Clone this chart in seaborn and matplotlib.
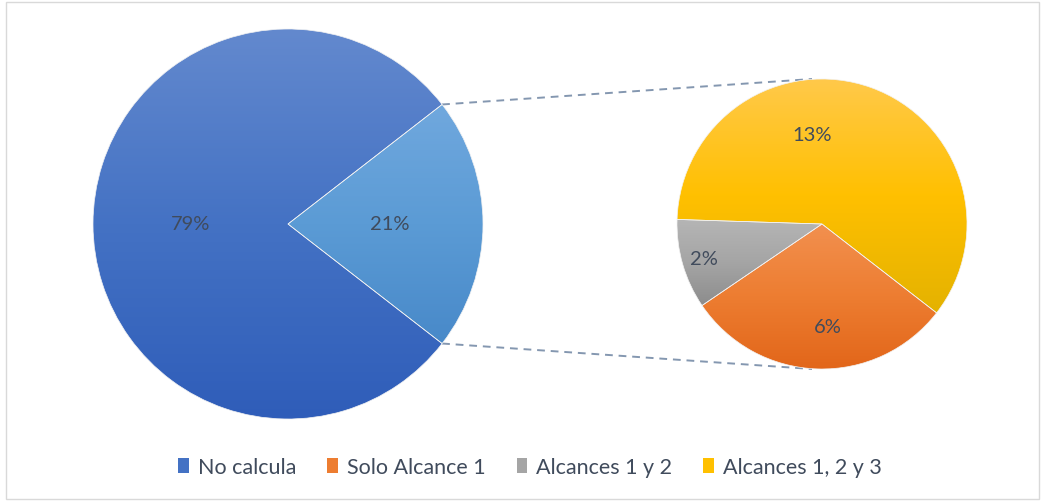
import numpy as np
import matplotlib
matplotlib.use("Agg")
import matplotlib.pyplot as plt
from matplotlib.colors import LinearSegmentedColormap
from matplotlib.patches import Patch, Rectangle
import seaborn as sns

# datos
categories = ["No calcula", "Solo Alcance 1", "Alcances 1 y 2", "Alcances 1, 2 y 3"]
values = [79.0, 6.3, 2.1, 12.6]
colors = ["#4472C4", "#ED7D31", "#A5A5A5", "#FFC000"]
other_color = "#5B9BD5"

main_values = [values[0], sum(values[1:])]
sub_values = values[1:]

# degradados tipo Excel: (abajo, medio, arriba)
grad_stops = {
    "#4472C4": ["#2F5DB9", "#4472C4", "#6389CE"],
    "#5B9BD5": ["#4889C9", "#5B9BD5", "#70A8DE"],
    "#ED7D31": ["#E2661A", "#ED7D31", "#F2904F"],
    "#A5A5A5": ["#8C8C8C", "#A5A5A5", "#B5B5B5"],
    "#FFC000": ["#E4B200", "#FFC000", "#FFC94A"],
}

sns.set_theme(style="white")
plt.rcParams["font.family"] = ["Lato", "DejaVu Sans"]
text_color = "#404B5C"


def gradient_fill(ax, wedge, color):
    # relleno con degradado vertical (claro arriba, oscuro abajo)
    cx, cy = wedge.center
    t = np.radians(np.linspace(wedge.theta1, wedge.theta2, 200))
    xs = np.r_[cx, cx + wedge.r * np.cos(t)]
    ys = np.r_[cy, cy + wedge.r * np.sin(t)]
    cmap = LinearSegmentedColormap.from_list("g", grad_stops[color])
    grad = np.linspace(0, 1, 256).reshape(-1, 1)
    im = ax.imshow(grad, cmap=cmap, origin="lower", aspect="auto",
                   extent=(xs.min(), xs.max(), ys.min(), ys.max()), zorder=0.5)
    im.set_clip_path(wedge)
    wedge.set_facecolor("none")


fig = plt.figure(figsize=(10.42, 5.02), dpi=100)
ax = fig.add_axes([0, 0, 1, 1])

main_c, main_r = (288, 277), 195
sub_c, sub_r = (822, 277), 145

half = 360 * main_values[1] / sum(main_values) / 2
main_w, _ = ax.pie(main_values, colors=[colors[0], other_color], startangle=half,
                   center=main_c, radius=main_r, frame=True,
                   wedgeprops=dict(edgecolor="#F2F2F2", linewidth=0.5))
sub_w, _ = ax.pie(sub_values, colors=colors[1:], startangle=-half, counterclock=False,
                  center=sub_c, radius=sub_r, frame=True,
                  wedgeprops=dict(edgecolor="#F2F2F2", linewidth=0.5))

for w, c in zip(main_w, [colors[0], other_color]):
    gradient_fill(ax, w, c)
for w, c in zip(sub_w, colors[1:]):
    gradient_fill(ax, w, c)

# etiquetas de porcentaje
main_lab = [(0.50, 0), (0.52, 0)]
sub_lab = [(0.71, 5), (0.85, 0), (0.62, 26)]
for wedges, vals, labs in [(main_w, main_values, main_lab), (sub_w, sub_values, sub_lab)]:
    for w, v, (d, nudge) in zip(wedges, vals, labs):
        a = np.radians((w.theta1 + w.theta2) / 2 + nudge)
        x = w.center[0] + d * w.r * np.cos(a)
        y = w.center[1] + d * w.r * np.sin(a)
        ax.text(x, y, f"{v:.0f}%", ha="center", va="center", fontsize=14.5, color=text_color)

# lineas de conexion
for sgn in (1, -1):
    a = np.radians(half) * sgn
    x0 = main_c[0] + main_r * np.cos(a)
    y0 = main_c[1] + main_r * np.sin(a)
    ax.plot([x0, sub_c[0] - 10], [y0, sub_c[1] + sgn * sub_r], ls=(0, (4, 3)),
            color="#8497B0", lw=1.4, zorder=0.3)

ax.set_xlim(0, 1042)
ax.set_ylim(0, 502)
ax.set_aspect("equal")
ax.axis("off")

fig.add_artist(Rectangle((6 / 1042, 2 / 502), 1033 / 1042, 497 / 502, transform=fig.transFigure,
                         fill=False, edgecolor="#D9D9D9", lw=1))

handles = [Patch(facecolor=c, edgecolor="none", label=l) for c, l in zip(colors, categories)]
fig.legend(handles=handles, loc="center", bbox_to_anchor=(530 / 1042, 34 / 502), ncol=4,
           frameon=False, fontsize=15.5, handlelength=0.5, handleheight=0.7,
           handletextpad=0.4, columnspacing=1.45, labelcolor=text_color)

fig.savefig("out.png", dpi=100)
